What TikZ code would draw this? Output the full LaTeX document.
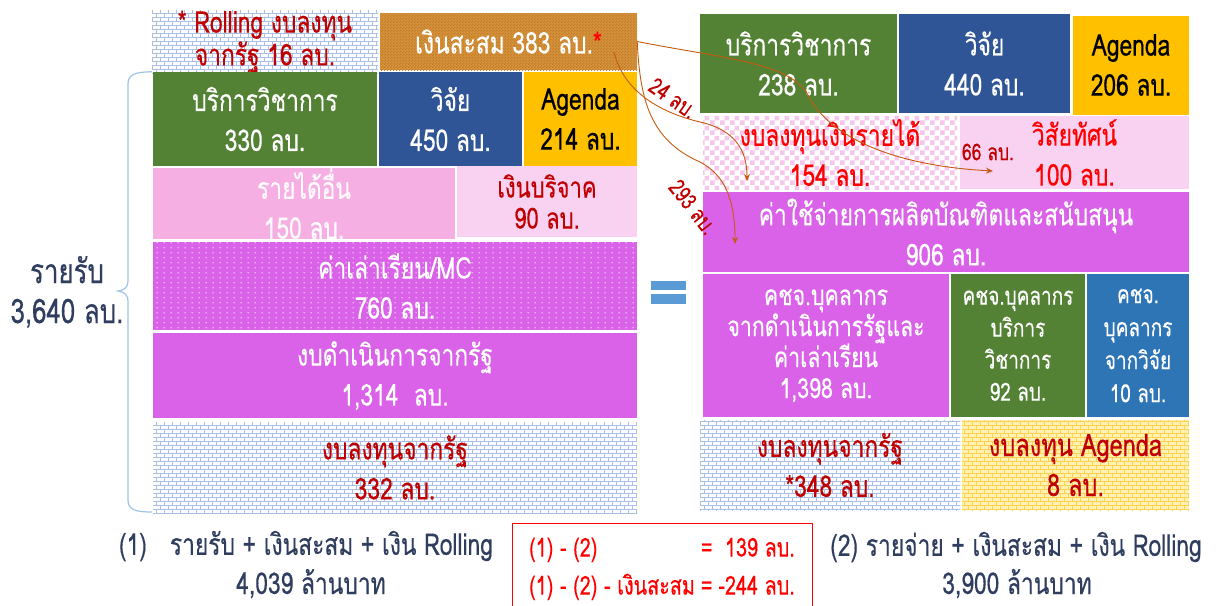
\documentclass[tikz,border=0pt]{standalone}
\usepackage{fontspec}
\setmainfont[Script=Thai, FakeStretch=0.76, FakeBold=0.35]{Loma}
\usetikzlibrary{patterns,arrows.meta}
\definecolor{cgreen}{HTML}{548235}
\definecolor{cblue}{HTML}{2F5597}
\definecolor{cblueb}{HTML}{2E75B6}
\definecolor{cyellow}{HTML}{FFC000}
\definecolor{cmag}{HTML}{D962E8}
\definecolor{cpink}{HTML}{F6AFE3}
\definecolor{cpinkl}{HTML}{F9D1F1}
\definecolor{corange}{HTML}{D6923A}
\definecolor{corangek}{HTML}{C27E2A}
\definecolor{carrow}{HTML}{C55A11}
\definecolor{cdred}{HTML}{C00000}
\definecolor{cnavy}{HTML}{2F3D5E}
\definecolor{cbrick}{HTML}{A9C0E4}
\definecolor{cbrace}{HTML}{9DC3E6}
\definecolor{ceq}{HTML}{5B9BD5}
\definecolor{cybg}{HTML}{FFF0B3}
\definecolor{cybrick}{HTML}{FFD24D}
\definecolor{cchk}{HTML}{F6C6EC}
\pgfdeclarepatternformonly{brickpat}{\pgfqpoint{-0.5pt}{-0.5pt}}{\pgfqpoint{8.5pt}{8.5pt}}{\pgfqpoint{8pt}{8pt}}{%
  \pgfsetlinewidth{0.7pt}%
  \pgfpathmoveto{\pgfqpoint{0pt}{0pt}}\pgfpathlineto{\pgfqpoint{8pt}{0pt}}%
  \pgfpathmoveto{\pgfqpoint{0pt}{4pt}}\pgfpathlineto{\pgfqpoint{8pt}{4pt}}%
  \pgfpathmoveto{\pgfqpoint{0pt}{0pt}}\pgfpathlineto{\pgfqpoint{0pt}{4pt}}%
  \pgfpathmoveto{\pgfqpoint{4pt}{4pt}}\pgfpathlineto{\pgfqpoint{4pt}{8pt}}%
  \pgfusepath{stroke}}
\pgfdeclarepatternformonly{dotpat}{\pgfpointorigin}{\pgfqpoint{7pt}{5pt}}{\pgfqpoint{7pt}{5pt}}{%
  \pgfpathrectangle{\pgfqpoint{3pt}{2pt}}{\pgfqpoint{1pt}{1.4pt}}\pgfusepath{fill}}
\pgfdeclarepatternformonly{chkpat}{\pgfpointorigin}{\pgfqpoint{10pt}{10pt}}{\pgfqpoint{10pt}{10pt}}{%
  \pgfpathrectangle{\pgfpointorigin}{\pgfqpoint{5pt}{5pt}}%
  \pgfpathrectangle{\pgfqpoint{5pt}{5pt}}{\pgfqpoint{5pt}{5pt}}\pgfusepath{fill}}
\pgfdeclarepatternformonly{finepat}{\pgfpointorigin}{\pgfqpoint{3pt}{3pt}}{\pgfqpoint{3pt}{3pt}}{%
  \pgfpathrectangle{\pgfpointorigin}{\pgfqpoint{1.5pt}{1.5pt}}%
  \pgfpathrectangle{\pgfqpoint{1.5pt}{1.5pt}}{\pgfqpoint{1.5pt}{1.5pt}}\pgfusepath{fill}}
\tikzset{
  cell/.style={inner sep=0pt, align=center, anchor=center, font=\fontsize{30}{40}\selectfont},
  brickcell/.style={cell, preaction={fill=white}, pattern=brickpat, pattern color=cbrick},
  ybrickcell/.style={cell, preaction={fill=cybg}, pattern=brickpat, pattern color=cybrick},
  flow/.style={draw=carrow, line width=0.9pt, -{Stealth[length=7pt,width=6pt]}},
  flowlbl/.style={text=cdred, font=\fontsize{23}{26}\selectfont, inner sep=0pt},
  bottomtxt/.style={text=cnavy, font=\fontsize{30}{34}\selectfont, inner sep=0pt}
}
\begin{document}
\begin{tikzpicture}[x=1pt,y=-1pt]
\useasboundingbox (0,0) rectangle (1220,605);
% ---------- left column ----------
\node[brickcell, minimum width=226, minimum height=57, text=cdred, font=\fontsize{30}{31}\selectfont] (roll) at (265,42) {* Rolling งบลงทุน\\จากรัฐ 16 ลบ.};
\node[cell, preaction={fill=corange}, pattern=finepat, pattern color=corangek, minimum width=257, minimum height=57, text=white] (acc) at (508.5,41.5) {เงินสะสม 383 ลบ.\textcolor{red}{*}};
\node[cell, fill=cgreen, minimum width=224, minimum height=94, text=white] (lsvc) at (265,119) {บริการวิชาการ\\330 ลบ.};
\node[cell, fill=cblue, minimum width=143, minimum height=94, text=white] (lres) at (450.5,119) {วิจัย\\450 ลบ.};
\node[cell, fill=cyellow, minimum width=113, minimum height=94, text=black] (lag) at (580.5,119) {Agenda\\214 ลบ.};
\node[cell, fill=cpink, minimum width=302, minimum height=71, text=white!94!cpink] (oth) at (304,203.5) {รายได้อื่น\\150 ลบ.};
\node[cell, fill=cpinkl, minimum width=180, minimum height=71, text=cdred, font=\fontsize{29}{31}\selectfont] (don) at (547,201.5) {เงินบริจาค\\90 ลบ.};
\node[cell, preaction={fill=cmag}, pattern=dotpat, pattern color=white!75!cmag, minimum width=484, minimum height=88, text=white] (tui) at (395,286) {ค่าเล่าเรียน/MC\\760 ลบ.};
\node[cell, fill=cmag, minimum width=484, minimum height=85, text=white] (ops) at (395,375.5) {งบดำเนินการจากรัฐ\\1,314~~ลบ.};
\node[brickcell, minimum width=484, minimum height=91, text=cdred] (cap) at (395,467.5) {งบลงทุนจากรัฐ\\332 ลบ.};
% brace and total
\draw[cbrace, line width=1.2pt] (lsvc.north west) ++(-1,0) .. controls (136,72) and (128,74) .. (128,84) -- (128,280)
  .. controls (128,288) and (124,290) .. (118,291) .. controls (124,292) and (128,294) .. (128,302) -- (128,500)
  .. controls (128,510) and (136,512) .. (152,512);
\node[cell, text=cnavy, font=\fontsize{34}{40}\selectfont] (inc) at (67,292) {รายรับ\\3,640 ลบ.};
% equal sign
\fill[ceq] (651,281) rectangle (686,290);
\fill[ceq] (651,294) rectangle (686,304);
% ---------- right column ----------
\node[cell, fill=cgreen, minimum width=197, minimum height=99, text=white] (rsvc) at (798.5,63.5) {บริการวิชาการ\\238 ลบ.};
\node[cell, fill=cblue, minimum width=171, minimum height=99, text=white] (rres) at (984.5,63.5) {วิจัย\\440 ลบ.};
\node[cell, fill=cyellow, minimum width=116, minimum height=99, text=black] (rag) at (1131,65) {Agenda\\206 ลบ.};
\node[cell, preaction={fill=white}, pattern=chkpat, pattern color=cchk, minimum width=254, minimum height=73, text=red] (inv) at (830,152.5) {งบลงทุนเงินรายได้\\154 ลบ.};
\node[cell, fill=cpinkl, minimum width=229, minimum height=73, text=red] (vis) at (1074.5,152.5) {วิสัยทัศน์\\100 ลบ.};
\node[cell, fill=cmag, minimum width=486, minimum height=80, text=white] (prod) at (946,232) {ค่าใช้จ่ายการผลิตบัณฑิตและสนับสนุน\\906 ลบ.};
\node[cell, fill=cmag, minimum width=246, minimum height=143, text=white, font=\fontsize{28}{31}\selectfont] (staff) at (826,345.5) {คชจ.บุคลากร\\จากดำเนินการรัฐและ\\ค่าเล่าเรียน\\1,398 ลบ.};
\node[cell, fill=cgreen, minimum width=134, minimum height=143, text=white, font=\fontsize{25}{32}\selectfont] (sstaff) at (1018,345.5) {คชจ.บุคลากร\\บริการ\\วิชาการ\\92 ลบ.};
\node[cell, fill=cblueb, minimum width=102, minimum height=143, text=white, font=\fontsize{25}{33}\selectfont] (rstaff) at (1138,345.5) {คชจ.\\บุคลากร\\จากวิจัย\\10 ลบ.};
\node[brickcell, minimum width=260, minimum height=90, text=cdred] (rcap) at (830,465) {งบลงทุนจากรัฐ\\*348 ลบ.};
\node[ybrickcell, minimum width=227, minimum height=90, text=cdred, font=\fontsize{31}{40}\selectfont] (agcap) at (1075.5,465) {งบลงทุน Agenda\\8 ลบ.};
% ---------- flows from accumulated funds ----------
\coordinate (s2) at (614,52);
\coordinate (e1) at (993,171);
\coordinate (e2) at (747,181);
\coordinate (e3) at (735,244);
\draw[flow] (acc.east) .. controls (720,58) and (790,62) .. (808,95) .. controls (825,130) and (880,165) .. (e1);
\draw[flow] (s2) .. controls (622,85) and (650,110) .. (700,122) .. controls (735,130) and (747,150) .. (e2);
\draw[flow] (acc.east) .. controls (640,100) and (650,140) .. (700,162) .. controls (725,175) and (735,200) .. (e3);
\node[flowlbl, rotate=-35] (l24) at (673,98) {24 ลบ.};
\node[flowlbl, rotate=-52] (l293) at (693,207) {293 ลบ.};
\node[flowlbl] (l66) at (988,152) {66 ลบ.};
% ---------- bottom ----------
\node[bottomtxt] (f1) at (306,546) {(1)~~ รายรับ + เงินสะสม + เงิน Rolling};
\node[bottomtxt, anchor=base, text depth=0pt] (f1v) at (311,594) {4,039 ล้านบาท};
\node[draw=red, line width=0.8pt, minimum width=300, minimum height=92, inner sep=0pt] (diff) at (662,569) {};
\node[text=red, font=\fontsize{26}{38}\selectfont, inner sep=0pt] (difft) at (662,568) {\begin{tabular}{@{}l@{\hspace{6pt}}c@{\hspace{6pt}}r@{}}(1) - (2) & = & 139 ลบ.\\(1) - (2) - เงินสะสม & = & -244 ลบ.\end{tabular}};
\node[bottomtxt] (f2) at (1016,547) {(2) รายจ่าย + เงินสะสม + เงิน Rolling};
\node[bottomtxt, anchor=base, text depth=0pt] (f2v) at (1017,594) {3,900 ล้านบาท};
\end{tikzpicture}
\end{document}
